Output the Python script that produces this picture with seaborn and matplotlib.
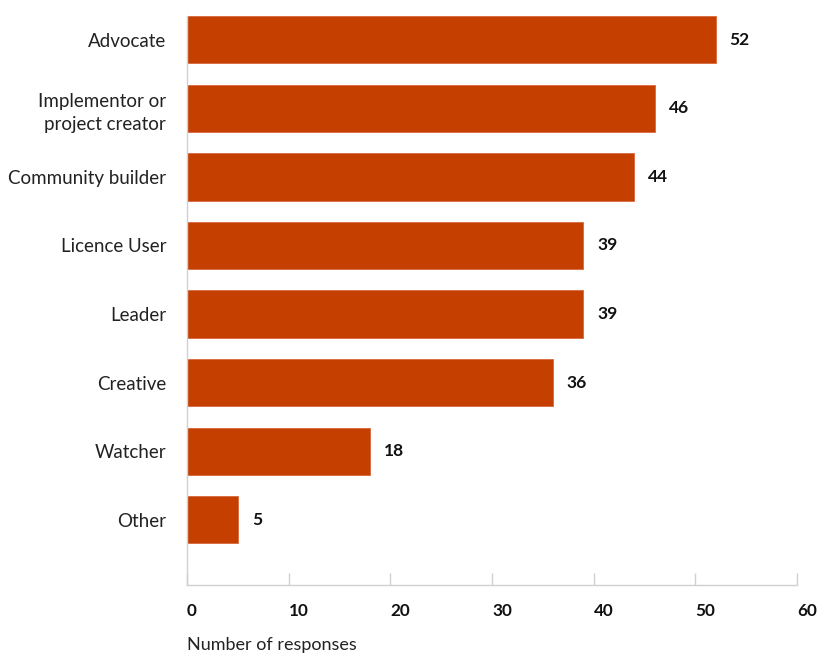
import matplotlib
matplotlib.use("Agg")
import matplotlib.pyplot as plt
import seaborn as sns
import pandas as pd

categories = ["Advocate", "Implementor or\nproject creator", "Community builder",
              "Licence User", "Leader", "Creative", "Watcher", "Other"]
values = [52, 46, 44, 39, 39, 36, 18, 5]
xticks = [0, 10, 20, 30, 40, 50, 60]

sns.set_theme(style="white")
plt.rcParams['font.family'] = ['Lato', 'DejaVu Sans']

df = pd.DataFrame({"role": categories, "n": values})

fig = plt.figure(figsize=(8.2, 6.54), dpi=100)
ax = fig.add_axes([187/820, 1-585/654, 610/820, (585-16)/654])

bar_color = "#C54000"
sns.barplot(data=df, y="role", x="n", orient="h", color=bar_color,
            width=0.69, saturation=1, ax=ax, edgecolor="#D9683A", linewidth=0.6)

ax.set_xlim(0, 60)
ax.set_ylim(7.95, -0.345)
ax.set_xticks(xticks)
ax.set_xticklabels([str(t) for t in xticks], fontweight="bold", fontsize=12.3, ha="left")
ax.tick_params(axis="x", direction="in", length=9, width=1, color="#D0D0D0",
               pad=13, labelcolor="#111111", bottom=True)
ax.tick_params(axis="y", length=0, pad=15, labelsize=13.5, labelcolor="#222222")
for lab in ax.get_yticklabels():
    lab.set_linespacing(1.45)
ax.set_xlabel("")
ax.set_ylabel("")

for s in ["top", "right"]:
    ax.spines[s].set_visible(False)
for s in ["left", "bottom"]:
    ax.spines[s].set_color("#D0D0D0")
    ax.spines[s].set_linewidth(1)

for i, v in enumerate(values):
    ax.annotate(str(v), xy=(v, i), xytext=(10, 0), textcoords="offset points",
                va="center", ha="left", fontsize=12.5, fontweight="bold", color="#111111")

fig.text(187/820, 1-645/654, "Number of responses", ha="left", va="center",
         fontsize=13, color="#222222")

fig.savefig("out.png", dpi=100)
